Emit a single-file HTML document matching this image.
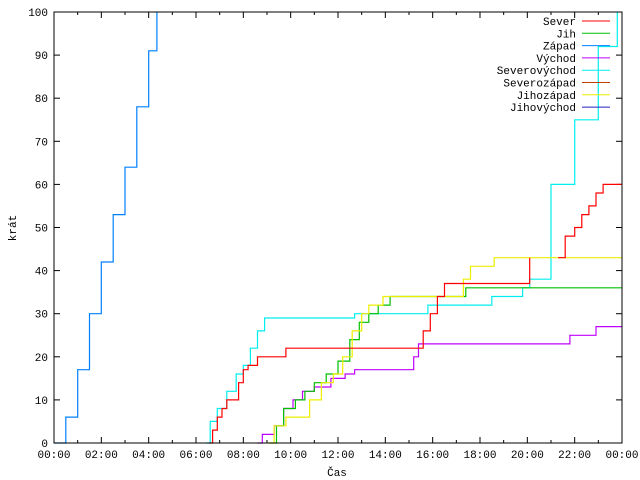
<!DOCTYPE html>
<html><head><meta charset="utf-8"><style>
body{margin:0;background:#fff}
svg{display:block;font-family:"Liberation Mono","DejaVu Sans Mono",monospace;font-size:11px}
</style></head><body>
<svg id="c" width="640" height="480" xmlns="http://www.w3.org/2000/svg">
<rect width="640" height="480" fill="#fff"/>
<g id="grid"></g>
<g id="series"></g>
<rect x="54" y="12" width="568" height="431" fill="none" stroke="#000"/>
<text x="337" y="476" text-anchor="middle">Čas</text>
<text x="16" y="228" text-anchor="middle" transform="rotate(-90 16 228)">krát</text>
<g id="legend"></g>
</svg>
<script>
const seriesNames=["Sever","Jih","Západ","Východ","Severovýchod","Severozápad","Jihozápad","Jihovýchod"];
const seriesColors=["#ff0000","#00c000","#0080ff","#c000ff","#00eeee","#c04000","#eeee00","#2020c0"];
const yTicks=[0,10,20,30,40,50,60,70,80,90,100];
const xTickHours=[0,2,4,6,8,10,12,14,16,18,20,22,24];
const xTickLabels=["00:00","02:00","04:00","06:00","08:00","10:00","12:00","14:00","16:00","18:00","20:00","22:00","00:00"];
const severA=[[6.55,0],[6.7,3],[6.9,6],[7.1,8],[7.3,10],[7.8,14],[8.0,17],[8.2,18],[8.6,20],[9.8,22],[15.3,22],[15.6,26],[15.9,30],[16.2,34],[16.5,37],[19.9,37],[20.1,43]];
const severB=[[21.3,43],[21.6,48],[22.0,50],[22.3,53],[22.6,55],[22.9,58],[23.2,60],[24,60]];
const jih=[[9.1,0],[9.4,4],[9.7,8],[10.2,10],[10.6,12],[11.0,14],[11.5,16],[12.0,19],[12.5,24],[12.9,28],[13.3,30],[13.7,32],[14.2,34],[17.2,34],[17.4,36],[24,36]];
const zapad=[[0,0],[0.5,6],[1,17],[1.5,30],[2,42],[2.5,53],[3,64],[3.5,78],[4,91],[4.35,100]];
const vychod=[[8.6,0],[8.8,2],[9.3,4],[9.7,8],[10.1,10],[10.5,12],[11.0,13],[11.7,15],[12.3,16],[12.7,17],[15.0,17],[15.2,20],[15.4,23],[21.7,23],[21.8,25],[22.8,25],[22.9,27],[24,27]];
const severovychod=[[6.4,0],[6.6,5],[6.9,8],[7.3,12],[7.7,16],[8.0,18],[8.3,22],[8.6,26],[8.9,29],[12.7,30],[15.8,32],[18.5,34],[19.8,36],[20.1,38],[21,60],[22,75],[23,92],[23.8,100]];
const jihozapad=[[9.0,0],[9.3,4],[9.8,6],[10.6,6],[10.8,10],[11.3,14],[11.8,16],[12.2,20],[12.6,26],[13.0,30],[13.3,32],[13.9,34],[17.1,34],[17.3,38],[17.6,41],[18.5,41],[18.6,43],[24,43]];
const X0=54,X1=622,Y0=443,Y1=12;
const xs=h=>X0+(X1-X0)*h/24;
const ys=v=>Y0-(Y0-Y1)*v/100;
const NS="http://www.w3.org/2000/svg";
function mk(t,a,p){const e=document.createElementNS(NS,t);for(const k in a)e.setAttribute(k,a[k]);p.appendChild(e);return e;}
const g=document.getElementById('grid');
yTicks.forEach(v=>{
 const y=ys(v);
 const t=mk('line',{x1:X0,x2:X0+6,y1:y,y2:y,stroke:'#000'},g);
 
 
 const t2=mk('line',{x1:X1-6,x2:X1,y1:y,y2:y,stroke:'#000'},g);
 
 
 const l=mk('text',{x:X0-6,y:y+4,'text-anchor':'end'},g);l.textContent=v;
 
 
});
for(let h=0;h<=24;h++){
 const x=xs(h),len=h%2?3:6;
 const t=mk('line',{x1:x,x2:x,y1:Y0,y2:Y0-len,stroke:'#000'},g);
 
 
 const t2=mk('line',{x1:x,x2:x,y1:Y1,y2:Y1+len,stroke:'#000'},g);
 
 
}
xTickHours.forEach((h,i)=>{
 const l=mk('text',{x:xs(h),y:Y0+15,'text-anchor':'middle'},g);l.textContent=xTickLabels[i];
 
 
});
const sg=document.getElementById('series');
function step(pts,col,name){
 let d='';
 pts.forEach((p,i)=>{
  const x=xs(p[0]).toFixed(1),y=ys(p[1]).toFixed(1);
  if(i===0)d+='M'+x+' '+y;else d+='H'+x+'V'+y;
 });
 const e=mk('path',{d:d,fill:'none',stroke:col,'stroke-width':1.2},sg);
 
 
}
step(zapad,seriesColors[2],'series-zapad');
step(severovychod,seriesColors[4],'series-severovychod');
step(vychod,seriesColors[3],'series-vychod');
step(jih,seriesColors[1],'series-jih');
step(jihozapad,seriesColors[6],'series-jihozapad');
step(severA,seriesColors[0],'series-sever');
step(severB,seriesColors[0],'series-sever-2');
const lg=document.getElementById('legend');
seriesNames.forEach((n,i)=>{
 const y=21+i*12.3;
 const t=mk('text',{x:576,y:y+4,'text-anchor':'end'},lg);t.textContent=n;
 
 
 const s=mk('line',{x1:582,x2:610,y1:y,y2:y,stroke:seriesColors[i]},lg);
 
 
});
</script>
</body></html>
